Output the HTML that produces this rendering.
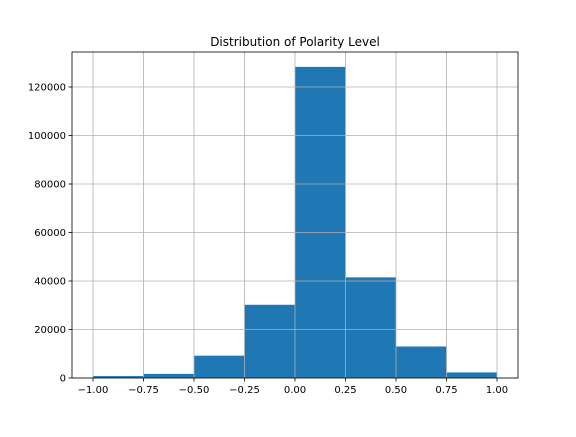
<!DOCTYPE html>
<html><head><meta charset="utf-8"><style>
body{margin:0;background:#fff;}
svg text{font-family:"DejaVu Sans","Liberation Sans",sans-serif;font-size:10px;fill:#000;}
</style></head><body>
<svg id="chart" width="576" height="432" xmlns="http://www.w3.org/2000/svg">
<rect width="576" height="432" fill="#fff"/>
<text x="295" y="46" text-anchor="middle" style="font-size:12px">Distribution of Polarity Level</text>
<g id="bars"></g><g id="grid"></g><g id="axes"></g>
</svg>
<script>
const binEdges=[-1,-0.75,-0.5,-0.25,0,0.25,0.5,0.75,1];
const counts=[800,1700,9200,30200,128300,41500,13000,2300];
const xTicks=[-1,-0.75,-0.5,-0.25,0,0.25,0.5,0.75,1];
const xTickLabels=["\u22121.00","\u22120.75","\u22120.50","\u22120.25","0.00","0.25","0.50","0.75","1.00"];
const yTicks=[0,20000,40000,60000,80000,100000,120000];

const L=72,R=518,T=52,B=378;
const x=v=>93+(v+1)*202;
const y=v=>B-v*(291/120000);
const NS="http://www.w3.org/2000/svg";
function mk(t,a,p){const e=document.createElementNS(NS,t);for(const k in a)e.setAttribute(k,a[k]);p.appendChild(e);return e;}
const bars=document.getElementById('bars'),grid=document.getElementById('grid'),axes=document.getElementById('axes');
counts.forEach((c,i)=>{
  const r=mk('rect',{x:x(binEdges[i]),y:y(c),width:x(binEdges[i+1])-x(binEdges[i]),height:B-y(c),fill:'#1f77b4'},bars);
  
  
});
xTicks.forEach((v,i)=>{
  const g=mk('line',{x1:x(v),x2:x(v),y1:T,y2:B,stroke:'#b0b0b0','stroke-width':0.8},grid);
  
  
  mk('line',{x1:x(v),x2:x(v),y1:B,y2:B+3.5,stroke:'#000','stroke-width':0.8},axes);
  const t=mk('text',{x:x(v),y:B+15,'text-anchor':'middle'},axes);
  t.textContent=xTickLabels[i];
  
  
});
yTicks.forEach(v=>{
  const g=mk('line',{x1:L,x2:R,y1:y(v),y2:y(v),stroke:'#b0b0b0','stroke-width':0.8},grid);
  
  
  mk('line',{x1:L-3.5,x2:L,y1:y(v),y2:y(v),stroke:'#000','stroke-width':0.8},axes);
  const t=mk('text',{x:L-6,y:y(v)+3.5,'text-anchor':'end'},axes);
  t.textContent=String(v);
  
  
});
const f=mk('rect',{x:L,y:T,width:R-L,height:B-T,fill:'none',stroke:'#000','stroke-width':0.8},axes);


</script>
</body></html>
